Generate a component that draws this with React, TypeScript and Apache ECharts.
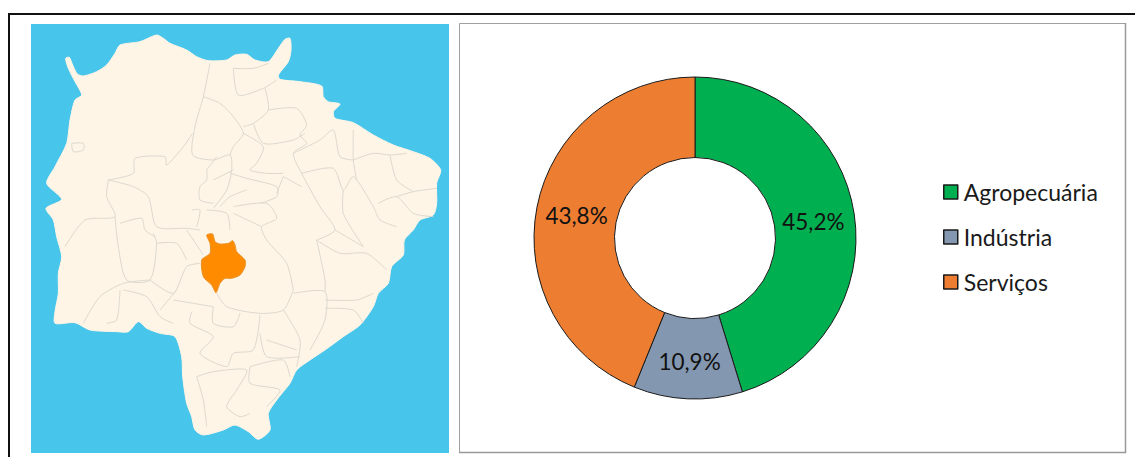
import React, { useEffect, useRef } from "react";
import * as echarts from "echarts";

const categories = ["Agropecuária", "Indústria", "Serviços"];
const values = [45.2, 10.9, 43.8];
const colors = ["#00B050", "#8497B0", "#ED7D31"];
const labelOffsets = [[-4, 2], [0, 0], [3, 1]];

// Decorative locator map, traced at 3x scale
const stateOutline = [197,175,208,172,218,195,232,222,250,228,290,215,320,195,345,160,360,135,420,125,470,105,490,115,510,130,560,150,590,170,625,182,680,180,705,165,740,163,765,180,805,185,835,145,855,118,870,115,873,150,865,185,835,225,840,238,900,245,965,258,970,290,985,305,1020,312,1000,335,1005,355,1060,368,1120,405,1180,435,1240,455,1290,475,1322,510,1310,550,1310,610,1300,645,1260,660,1240,690,1213,720,1210,765,1175,800,1165,850,1135,880,1120,920,1080,975,1030,1010,975,1050,930,1080,890,1110,870,1150,830,1200,805,1240,810,1290,775,1318,745,1295,705,1275,670,1290,610,1305,585,1290,575,1250,560,1210,548,1130,545,1070,525,1010,480,1000,440,985,415,965,385,995,350,995,270,990,225,968,165,970,165,935,175,880,175,820,185,770,170,710,160,660,138,625,185,598,140,550,165,500,200,430,210,360,225,300,245,285,225,245,205,205];
const municipality = [620,705,638,702,645,725,660,732,685,730,698,722,705,735,710,755,735,780,735,800,720,825,695,835,675,835,660,850,648,878,635,855,610,830,605,780,630,760,630,730];
const borders = [
  [630,190,610,290,585,380,578,465,640,480,690,465,695,510,680,570,640,625],
  [610,290,660,310,700,350,730,400,700,440,690,465],
  [700,205,715,285,790,265,830,240],[700,205,760,205,805,190],
  [795,265,805,330,760,370,730,380],
  [805,330,890,325,920,375,900,405,920,430,880,460,905,520,960,620,1005,690,950,720],
  [325,540,400,520,405,475,495,470,500,495,550,440,578,400],
  [325,540,320,590,345,650,255,660,195,740],
  [325,540,400,560,445,590,470,680,560,685,600,690],
  [345,650,355,740,380,840,450,840,470,730,460,700],
  [360,670,425,655,435,690,465,710],
  [450,840,520,880,560,800,600,790],[470,730,530,730,560,780],
  [250,970,300,890,370,850,450,840],[360,870,350,960,320,970],
  [370,870,440,890,480,950,520,970],[480,930,530,870],
  [650,880,680,920,780,940,850,930,880,870],
  [880,880,975,875,975,960,930,1050],
  [640,920,520,900],[640,920,640,970,700,980,720,940],
  [575,935,570,970,640,1010,600,1060,680,1100,700,1060,760,1050,780,945],
  [850,930,900,1020,890,1100],[780,1000,800,1070,900,1070],[800,1020,890,1050],
  [590,1130,640,1115,740,1110,710,1170,680,1220,720,1250,750,1240],
  [750,1100,850,1080,870,1130],[750,1100,750,1150,840,1170,800,1220],
  [590,1130,610,1200,620,1280],
  [880,870,860,790,800,720,785,680,830,655,800,610,700,620],[785,680,700,640],
  [950,720,975,840,975,875],[950,720,1020,760,1100,760,1160,810],[1005,690,1090,740],
  [975,900,1070,900,1120,880],[975,925,1060,930,1090,970],
  [905,520,1000,505,1030,570,1060,530,1120,620,1140,660,1190,680],
  [1030,570,1030,640,1090,740],[1135,610,1190,590,1240,640,1300,650],
  [1190,590,1240,575,1310,565],[1170,465,1190,540,1240,575],
  [1060,480,1120,460,1170,465,1220,460],[1060,390,1060,480,1070,540],
  [880,460,960,420,1000,390,1020,470,1060,480],
  [850,530,905,560],[850,530,830,580],
  [690,520,740,535,830,560,830,590,780,610],[740,570,690,590,660,620],
  [620,510,620,540,600,560,600,600,640,610],[620,510,650,470],[700,510,640,540],
  [575,630,600,630,590,680],[620,630,680,640,690,690],[560,690,610,765],
  [215,430,250,430,250,450,220,455,215,430],
  [730,400,790,440,770,490,750,510,800,520,850,520],[760,370,790,430,880,420,915,400],
];

const pts = (flat: number[]) => {
  const out: number[][] = [];
  for (let i = 0; i < flat.length; i += 2) out.push([flat[i] / 3, flat[i + 1] / 3]);
  return out;
};

export default function App() {
  const ref = useRef<HTMLDivElement>(null);
  useEffect(() => {
    document.body.style.margin = "0";
    const chart = echarts.init(ref.current!, undefined, { renderer: "svg" });
    const font = "Lato, 'Noto Sans', sans-serif";
    chart.setOption({
      animation: false,
      backgroundColor: "#ffffff",
      textStyle: { fontFamily: font },
      legend: {
        orient: "vertical",
        left: 938,
        top: 175,
        icon: "rect",
        itemWidth: 14,
        itemHeight: 14,
        itemGap: 21,
        data: categories,
        selectedMode: false,
        itemStyle: { borderColor: "#1a1a1a", borderWidth: 1.5 },
        textStyle: { fontSize: 23, color: "#1a1a1a", fontFamily: font, lineHeight: 24, padding: [0, 0, 0, 1] },
      },
      series: [
        {
          type: "pie",
          center: [695, 238],
          radius: [80.5, 161],
          startAngle: 90,
          clockwise: true,
          silent: true,
          data: categories.map((name, i) => ({
            name,
            value: values[i],
            itemStyle: { color: colors[i] },
            label: { offset: labelOffsets[i] },
          })),
          itemStyle: { borderColor: "#1a1a1a", borderWidth: 1 },
          label: {
            show: true,
            position: "inside",
            fontSize: 22.5,
            color: "#111111",
            fontFamily: font,
            formatter: (p: any) => String(p.value).replace(".", ",") + "%",
          },
          labelLine: { show: false },
        },
      ],
      graphic: [
        { type: "polyline", shape: { points: [[9, 457], [9, 14], [1135, 14]] }, style: { stroke: "#111111", fill: "none", lineWidth: 2 } },
        { type: "rect", shape: { x: 31, y: 24, width: 418, height: 429 }, style: { fill: "#47C5EB" } },
        { type: "polygon", shape: { points: pts(stateOutline), smooth: 0.25 }, style: { fill: "#FEF5E6", stroke: "#FEF5E6", lineWidth: 1 } },
        ...borders.map((b) => ({ type: "polyline", shape: { points: pts(b), smooth: 0.25 }, style: { stroke: "#DDD8CF", fill: "none", lineWidth: 1 } })),
        { type: "polygon", shape: { points: pts(municipality), smooth: 0.25 }, style: { fill: "#FF8C00", stroke: "#E8922A", lineWidth: 1 } },
        { type: "rect", shape: { x: 459.5, y: 23.5, width: 666, height: 429 }, style: { fill: "none", stroke: "#a0a0a0", lineWidth: 1 } },
        { type: "polyline", shape: { points: [[1125.5, 23], [1125.5, 452.5], [459, 452.5]] }, style: { stroke: "#999999", fill: "none", lineWidth: 1.5 } },
      ],
    });
    return () => chart.dispose();
  }, []);
  return <div ref={ref} style={{ width: 1135, height: 457 }} />;
}
